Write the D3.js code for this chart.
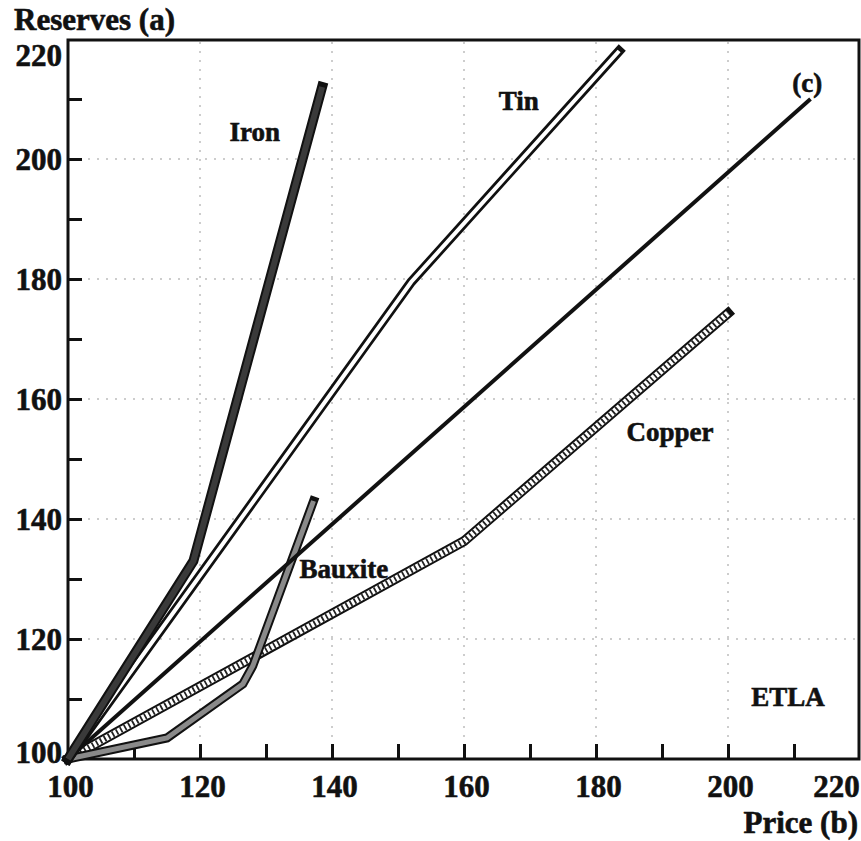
<!DOCTYPE html>
<html lang="en">
<head>
  <style>
    body { margin: 0; background: #fff; }
    text { font-family: "Liberation Serif", "DejaVu Serif", serif; font-weight: bold; fill: #111; stroke: #111; stroke-width: 0.6px; }
    .grid line { stroke: #bdbdbd; stroke-width: 1.5px; stroke-dasharray: 2 7; }
  </style>
  <script src="https://d3js.org/d3.v7.min.js"></script>
</head>
<body>
  <script>
    // reading from the picture: [price, reserves]
    const iron = [[100, 100], [119, 133], [138.5, 212]];
    const tin = [[100, 100], [152, 179.5], [183.5, 218]];
    const lineC = [[100, 100], [212.5, 210]];
    const copper = [[100, 100], [160, 136.3], [200, 174.3]];
    const bauxite = [[100, 100], [115, 103.5], [126.5, 112.5], [128, 115.5], [137.2, 143]];

    const labels = [
      { text: "Iron", at: [128.3, 203] },
      { text: "Tin", at: [168.3, 208.2] },
      { text: "(c)", at: [212, 211.2] },
      { text: "Copper", at: [191.2, 153] },
      { text: "Bauxite", at: [141.8, 130.2] },
      { text: "ETLA", at: [209.1, 108.8] }
    ];

    const majorTicks = [100, 120, 140, 160, 180, 200, 220];
    const minorTicks = [110, 120, 130, 140, 150, 160, 170, 180, 190, 200, 210];

    const W = 861, H = 841;
    const mLeft = 68, mRight = 859, mTop = 40, mBottom = 759;

    const svg = d3.select("body").append("svg")
      .attr("width", W).attr("height", H);

    const x = d3.scaleLinear().domain([100, 220]).range([mLeft, mLeft + 792]);
    const y = d3.scaleLinear().domain([100, 220]).range([mBottom, mBottom - 720]);

    // dotted grid
    const grid = svg.append("g").attr("class", "grid");
    grid.selectAll(".v").data(majorTicks.slice(1, -1)).join("line")
      .attr("class", "v")
      .attr("x1", d => x(d)).attr("x2", d => x(d))
      .attr("y1", mTop + 2).attr("y2", mBottom - 2);
    grid.selectAll(".h").data(majorTicks.slice(1, -1)).join("line")
      .attr("class", "h")
      .attr("y1", d => y(d)).attr("y2", d => y(d))
      .attr("x1", mLeft + 2).attr("x2", mRight - 2);

    // tick marks (inside)
    const xTicks = svg.append("g")
      .attr("transform", `translate(0,${mBottom})`)
      .call(d3.axisBottom(x).tickValues(minorTicks).tickSize(-15).tickFormat(""));
    const yTicks = svg.append("g")
      .attr("transform", `translate(${mLeft},0)`)
      .call(d3.axisLeft(y).tickValues(minorTicks).tickSize(-14).tickFormat(""));
    [xTicks, yTicks].forEach(g => {
      g.select(".domain").remove();
      g.selectAll(".tick line").attr("stroke", "#111").attr("stroke-width", 3);
    });

    // tick labels
    const xLab = svg.append("g")
      .attr("transform", `translate(0,${mBottom})`)
      .call(d3.axisBottom(x).tickValues(majorTicks).tickSize(0).tickPadding(9));
    xLab.select(".domain").remove();
    xLab.selectAll("text").style("font-size", "31px").attr("fill", "#111")
      .attr("dy", "0.95em")
      .attr("dx", d => d === 220 ? -24 : 2);

    const yLab = svg.append("g")
      .attr("transform", `translate(${mLeft},0)`)
      .call(d3.axisLeft(y).tickValues(majorTicks).tickSize(0).tickPadding(6));
    yLab.select(".domain").remove();
    yLab.selectAll("text").style("font-size", "31px").attr("fill", "#111")
      .attr("dy", d => d === 220 ? "0.85em" : d === 100 ? "0.12em" : "0.34em");

    // frame
    svg.append("rect")
      .attr("x", mLeft).attr("y", mTop)
      .attr("width", mRight - mLeft).attr("height", mBottom - mTop)
      .attr("fill", "none").attr("stroke", "#111").attr("stroke-width", 3);

    const line = d3.line().x(d => x(d[0])).y(d => y(d[1]));

    function drawLayers(data, layers) {
      layers.forEach(l => {
        svg.append("path").datum(data).attr("d", line)
          .attr("fill", "none")
          .attr("stroke", l.color)
          .attr("stroke-width", l.width)
          .attr("stroke-linejoin", "miter")
          .attr("stroke-linecap", l.cap || "butt")
          .attr("stroke-dasharray", l.dash || null);
      });
    }

    drawLayers(copper, [
      { color: "#111", width: 10, cap: "square" },
      { color: "#fff", width: 6 },
      { color: "#222", width: 6, dash: "1.8 2.8" }
    ]);
    drawLayers(bauxite, [
      { color: "#111", width: 9, cap: "square" },
      { color: "#8a8a8a", width: 5 }
    ]);
    drawLayers(lineC, [
      { color: "#111", width: 4 }
    ]);
    drawLayers(tin, [
      { color: "#111", width: 9.5, cap: "square" },
      { color: "#fff", width: 4 }
    ]);
    drawLayers(iron, [
      { color: "#111", width: 10, cap: "square" },
      { color: "#3a3a3a", width: 6 }
    ]);

    // series labels
    svg.selectAll(".lbl").data(labels).join("text")
      .attr("class", "lbl")
      .attr("x", d => x(d.at[0])).attr("y", d => y(d.at[1]))
      .attr("text-anchor", "middle")
      .style("font-size", "27px")
      .text(d => d.text);

    // axis titles
    svg.append("text").attr("x", 14).attr("y", 30)
      .style("font-size", "31px").text("Reserves (a)");
    svg.append("text").attr("x", 858).attr("y", 833)
      .attr("text-anchor", "end")
      .style("font-size", "31px").text("Price (b)");
  </script>
</body>
</html>
